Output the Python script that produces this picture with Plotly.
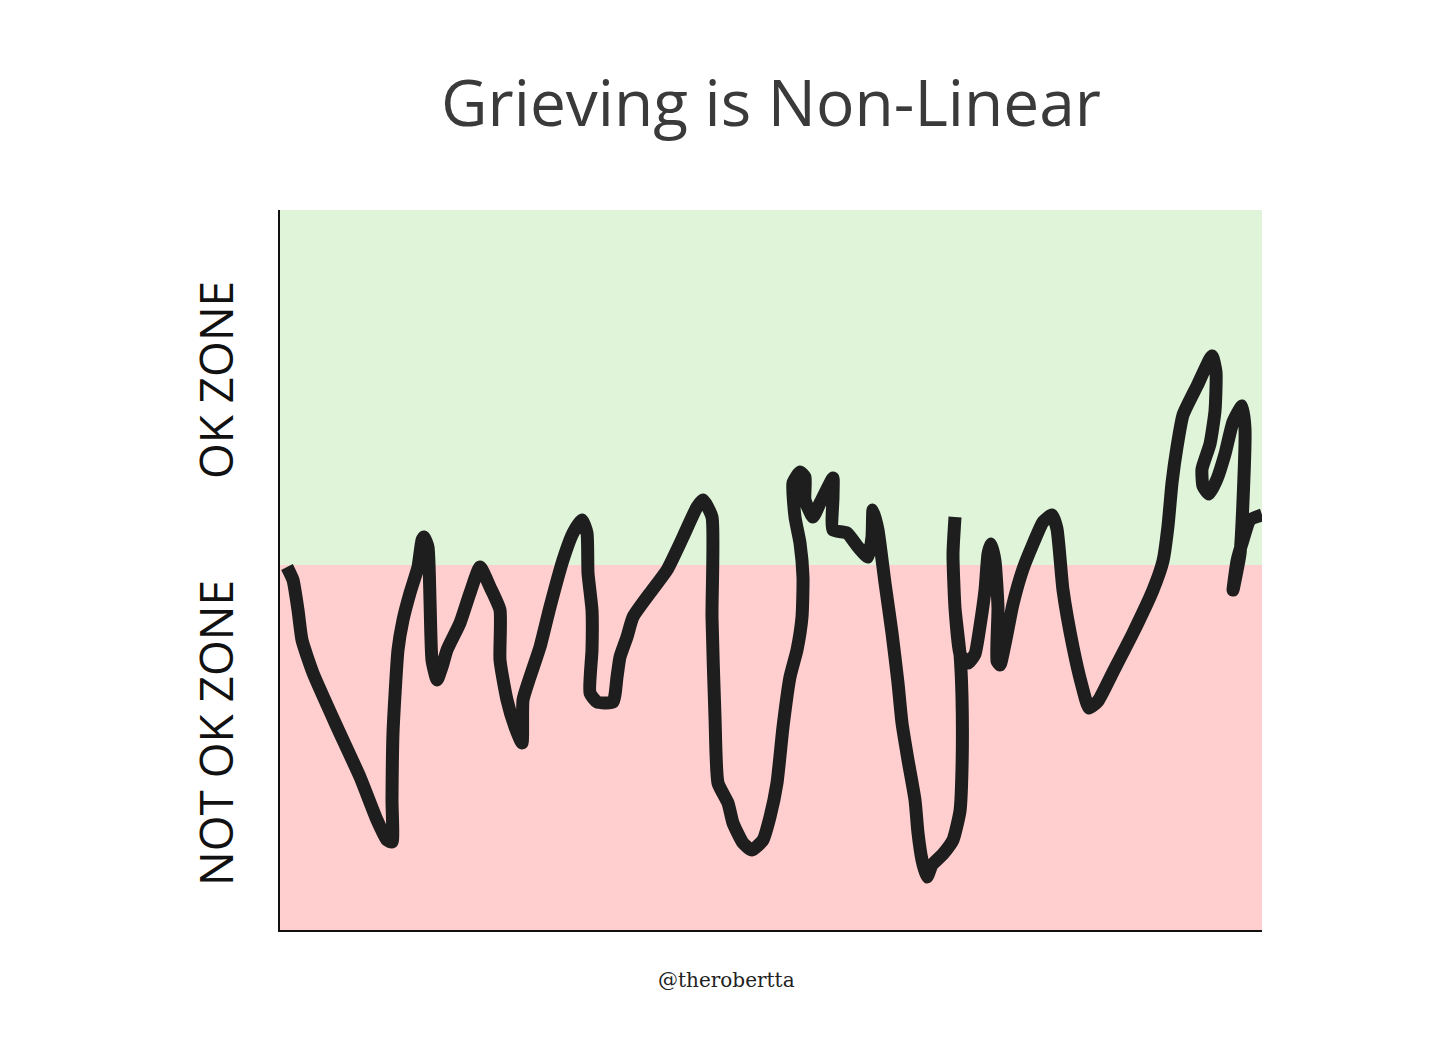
import plotly.graph_objects as go

# Time axis (drawing units) and mood level
days = [7, 13, 18, 22, 33, 57, 80, 97, 107, 112, 112, 113, 118, 123, 130, 138, 142, 144, 148, 150,
        152, 157, 162, 167, 180, 190, 200, 210, 220, 220, 227, 235, 242, 243, 250, 260, 270, 283, 293, 302,
        307, 308, 312, 312, 310, 317, 333,
        337, 340, 347, 353, 370, 387, 403, 417, 423, 432, 432, 435, 438, 448, 453, 463, 472, 483, 490, 497,
        503, 510, 517, 522, 523, 520, 515, 513, 520, 525, 525, 533, 540, 550, 553, 553, 553, 567, 578, 588,
        592, 593, 598, 605, 612, 618, 622, 628, 635, 638, 642, 647,
        652, 663, 673, 680, 682, 682, 680, 675, 673, 675, 673, 675, 680, 688, 695, 700, 705, 708, 711, 715,
        718, 717, 720, 725, 733, 743, 753, 763, 772, 777, 783, 793, 802, 809, 818, 833, 853, 873, 883, 888,
        892, 897, 903, 917, 932, 936, 935, 930, 922, 923, 929, 937, 945, 953, 962, 965, 963, 960, 953, 957,
        963, 970, 982]
mood = [363, 350, 320, 290, 257, 203, 153, 110, 90, 88, 130, 197, 280, 310, 337, 363, 390, 393, 383, 330,
        270, 250, 263, 280, 307, 337, 363, 343, 320, 270, 230, 203, 187, 230, 253, 283, 323, 370, 397, 410,
        397, 357, 320, 280, 237, 228, 228,
        253, 273, 293, 313, 337, 360, 393, 423, 430, 413, 313, 213, 147, 127, 107, 87, 80, 90, 113, 147,
        203, 253, 280, 313, 353, 387, 413, 447, 458, 453, 430, 413, 427, 447, 452, 433, 400, 397, 383, 373,
        393, 420, 400, 347, 297, 247, 207, 170, 130, 97, 70, 53,
        65, 76, 90, 119, 161, 233, 276, 322, 376, 413, 376, 322, 276, 267, 276, 304, 340, 376, 386, 369,
        322, 269, 265, 286, 326, 361, 386, 408, 415, 401, 340, 283, 244, 222, 229, 258, 297, 340, 369, 404,
        447, 483, 515, 544, 574, 558, 519, 486, 461, 444, 436, 451, 476, 508, 524, 501, 429, 376, 340, 369,
        390, 410, 415]

x_range = [0, 982]
y_range = [0, 720]
ok_threshold = 365

fig = go.Figure()

fig.add_shape(type="rect", xref="x", yref="y", x0=x_range[0], x1=x_range[1], y0=y_range[0], y1=ok_threshold,
              fillcolor="#ffcfcf", line=dict(width=0), layer="below")
fig.add_shape(type="rect", xref="x", yref="y", x0=x_range[0], x1=x_range[1], y0=ok_threshold, y1=y_range[1],
              fillcolor="#dff4d9", line=dict(width=0), layer="below")

fig.add_trace(go.Scatter(x=days, y=mood, mode="lines",
                         line=dict(color="#1e1e1e", width=13, shape="spline", smoothing=0.5),
                         hoverinfo="skip", showlegend=False))

fig.update_layout(
    width=1456, height=1048,
    margin=dict(l=272, r=202, t=202, b=126),
    paper_bgcolor="white", plot_bgcolor="white",
    title=dict(text="Grieving is Non-Linear", x=0.524, xanchor="center", y=0.909, yanchor="middle",
               font=dict(family="Open Sans", size=64, color="#3a3a3a")),
    xaxis=dict(range=x_range, showticklabels=False, showgrid=False, zeroline=False,
               showline=True, linecolor="#111111", linewidth=2, ticks=""),
    yaxis=dict(range=y_range, showticklabels=False, showgrid=False, zeroline=False,
               showline=True, linecolor="#111111", linewidth=2, ticks=""),
    annotations=[
        dict(text="OK ZONE", xref="paper", yref="paper", x=-0.066, y=0.764, textangle=-90,
             showarrow=False, xanchor="center", yanchor="middle",
             font=dict(family="Open Sans", size=46, color="#111111")),
        dict(text="NOT OK ZONE", xref="paper", yref="paper", x=-0.066, y=0.274, textangle=-90,
             showarrow=False, xanchor="center", yanchor="middle",
             font=dict(family="Open Sans", size=46, color="#111111")),
        dict(text="@therobertta", xref="paper", yref="paper", x=0.455, y=-0.069,
             showarrow=False, xanchor="center", yanchor="middle",
             font=dict(family="DejaVu Serif", size=20, color="#222222")),
    ],
)

fig.write_html("out.html")
